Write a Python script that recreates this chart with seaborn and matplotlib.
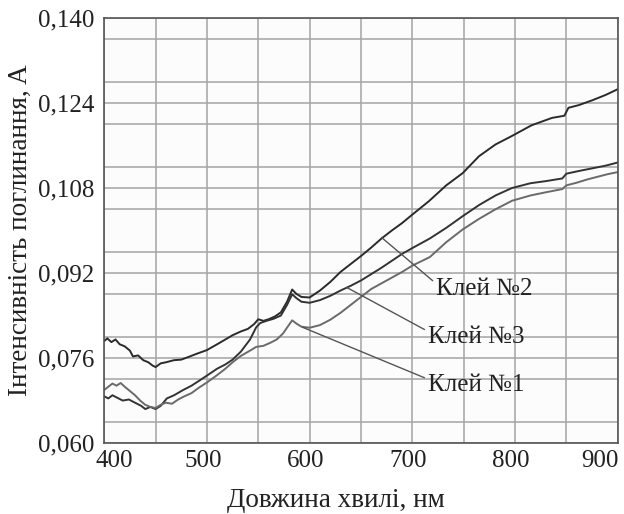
import matplotlib
matplotlib.use("Agg")
import matplotlib.pyplot as plt
import matplotlib.ticker as mticker
import matplotlib.transforms as mtransforms
import seaborn as sns
import pandas as pd

# Absorption spectra

wl_glue2 = [400, 403, 407, 411, 415, 420, 425, 428, 433, 438, 443, 447, 450, 455, 460,
            468, 475, 482, 490, 500, 510, 518, 525, 533, 540, 546, 550, 555, 560, 566,
            572, 578, 583, 587, 592, 600, 610, 620, 630, 640, 650, 660, 670, 680, 690,
            700, 716, 733, 749, 765, 781, 797, 816, 836, 848, 852, 862, 875, 888, 900]
abs_glue2 = [0.0792, 0.0797, 0.0790, 0.0795, 0.0786, 0.0782, 0.0774, 0.0763, 0.0765, 0.0756,
             0.0752, 0.0746, 0.0743, 0.0750, 0.0752, 0.0756, 0.0757, 0.0762, 0.0768, 0.0775,
             0.0786, 0.0795, 0.0803, 0.0810, 0.0815, 0.0824, 0.0833, 0.0830, 0.0833, 0.0838,
             0.0846, 0.0866, 0.0889, 0.0881, 0.0875, 0.0874, 0.0887, 0.0903, 0.0922, 0.0937,
             0.0952, 0.0968, 0.0985, 0.1000, 0.1014, 0.1030, 0.1055, 0.1085, 0.1108, 0.1140,
             0.1162, 0.1178, 0.1198, 0.1212, 0.1216, 0.1231, 0.1236, 0.1245, 0.1255, 0.1266]

wl_glue3 = [400, 404, 408, 412, 418, 424, 430, 436, 440, 445, 450, 455, 461, 468, 477,
            485, 493, 500, 510, 518, 525, 533, 542, 548, 552, 558, 565, 572, 578, 583,
            587, 592, 600, 610, 620, 630, 640, 650, 660, 670, 680, 690, 700, 717, 733,
            749, 765, 781, 797, 815, 830, 846, 850, 862, 875, 888, 900]
abs_glue3 = [0.0688, 0.0684, 0.0690, 0.0686, 0.0680, 0.0682, 0.0676, 0.0670, 0.0664, 0.0668,
             0.0664, 0.0670, 0.0684, 0.0690, 0.0700, 0.0708, 0.0718, 0.0727, 0.0740, 0.0748,
             0.0757, 0.0772, 0.0795, 0.0818, 0.0826, 0.0830, 0.0834, 0.0840, 0.0860, 0.0880,
             0.0873, 0.0866, 0.0864, 0.0869, 0.0877, 0.0887, 0.0896, 0.0906, 0.0918, 0.0930,
             0.0943, 0.0956, 0.0967, 0.0985, 0.1005, 0.1027, 0.1048, 0.1066, 0.1080, 0.1089,
             0.1093, 0.1098, 0.1107, 0.1112, 0.1117, 0.1122, 0.1128]

wl_glue1 = [400, 404, 408, 412, 416, 420, 425, 430, 435, 440, 445, 450, 455, 460, 466,
            472, 478, 485, 492, 500, 510, 518, 525, 533, 542, 548, 555, 562, 568, 574,
            579, 583, 587, 592, 600, 610, 620, 630, 640, 650, 660, 675, 690, 700, 717,
            733, 749, 765, 781, 797, 815, 830, 846, 850, 860, 870, 880, 890, 900]
abs_glue1 = [0.0700, 0.0706, 0.0712, 0.0708, 0.0713, 0.0706, 0.0698, 0.0690, 0.0680, 0.0672,
             0.0668, 0.0666, 0.0672, 0.0676, 0.0674, 0.0682, 0.0688, 0.0694, 0.0704, 0.0714,
             0.0728, 0.0740, 0.0752, 0.0764, 0.0774, 0.0781, 0.0783, 0.0789, 0.0795, 0.0806,
             0.0820, 0.0831, 0.0825, 0.0819, 0.0817, 0.0822, 0.0832, 0.0845, 0.0860, 0.0875,
             0.0890, 0.0906, 0.0922, 0.0934, 0.0950, 0.0978, 0.1002, 0.1022, 0.1040, 0.1056,
             0.1066, 0.1072, 0.1078, 0.1085, 0.1090, 0.1096, 0.1101, 0.1106, 0.1110]

# label text, point on the curve, label anchor (left edge, vertical centre)
labels = ["Клей №2", "Клей №3", "Клей №1"]
label_xy = [(670, 0.0987), (636, 0.0893), (593, 0.0818)]
label_text_xy = [(723, 0.0890), (715, 0.0800), (715, 0.0710)]

x_ticks = [400, 500, 600, 700, 800, 900]
y_ticks = [0.060, 0.076, 0.092, 0.108, 0.124, 0.140]

sns.set_theme(style="whitegrid")
plt.rcParams["font.family"] = ["Liberation Serif", "DejaVu Serif"]

fig = plt.figure(figsize=(6.24, 5.14), dpi=100)
ax = fig.add_axes([0.167, 0.138, 0.823, 0.827])
ax.set_facecolor("#fcfcfc")

df1 = pd.DataFrame({"wl": wl_glue1, "A": abs_glue1})
df2 = pd.DataFrame({"wl": wl_glue2, "A": abs_glue2})
df3 = pd.DataFrame({"wl": wl_glue3, "A": abs_glue3})

sns.lineplot(data=df2, x="wl", y="A", ax=ax, color="#2b2b2b", lw=1.4)
sns.lineplot(data=df3, x="wl", y="A", ax=ax, color="#333333", lw=1.4)
sns.lineplot(data=df1, x="wl", y="A", ax=ax, color="#6a6a6a", lw=1.4)

for text, xy, txy in zip(labels, label_xy, label_text_xy):
    ax.annotate(text, xy=xy, xytext=txy, ha="left", va="center",
                fontsize=18, color="#222222",
                arrowprops=dict(arrowstyle="-", color="#555555", lw=1.0,
                                shrinkA=0, shrinkB=0, relpos=(0, 0.75)))

ax.set_xlim(400, 900)
ax.set_ylim(0.060, 0.140)
ax.set_xticks(x_ticks)
ax.set_yticks(y_ticks)
ax.xaxis.set_minor_locator(mticker.MultipleLocator(50))
ax.yaxis.set_minor_locator(mticker.MultipleLocator(0.008))
ax.yaxis.set_major_formatter(mticker.FuncFormatter(lambda v, p: f"{v:.3f}".replace(".", ",")))
ax.grid(True, which="both", color="#a4a4a4", lw=1.1)
ax.tick_params(axis="both", which="both", length=0, labelsize=18, colors="#222222")
ax.tick_params(axis="x", pad=5)
ax.tick_params(axis="y", pad=7)

# the x tick labels in the original sit a little left of their gridlines
xlabels = ax.get_xticklabels()
for i, lab in enumerate(xlabels):
    if i == 0:
        lab.set_ha("left")
        dx = -9
    elif i == len(xlabels) - 1:
        lab.set_ha("right")
        dx = 1
    else:
        dx = -4
    lab.set_transform(lab.get_transform() +
                      mtransforms.ScaledTranslation(dx / 100, 0, fig.dpi_scale_trans))

for s in ax.spines.values():
    s.set_color("#555555")
    s.set_linewidth(1.2)

ax.set_xlabel("Довжина хвилі, нм", fontsize=19.5, color="#222222")
ax.set_ylabel("Інтенсивність поглинання, A", fontsize=19.5, color="#222222", labelpad=4)
ax.xaxis.set_label_coords(0.451, -0.105)

fig.savefig("out.png", dpi=100)
